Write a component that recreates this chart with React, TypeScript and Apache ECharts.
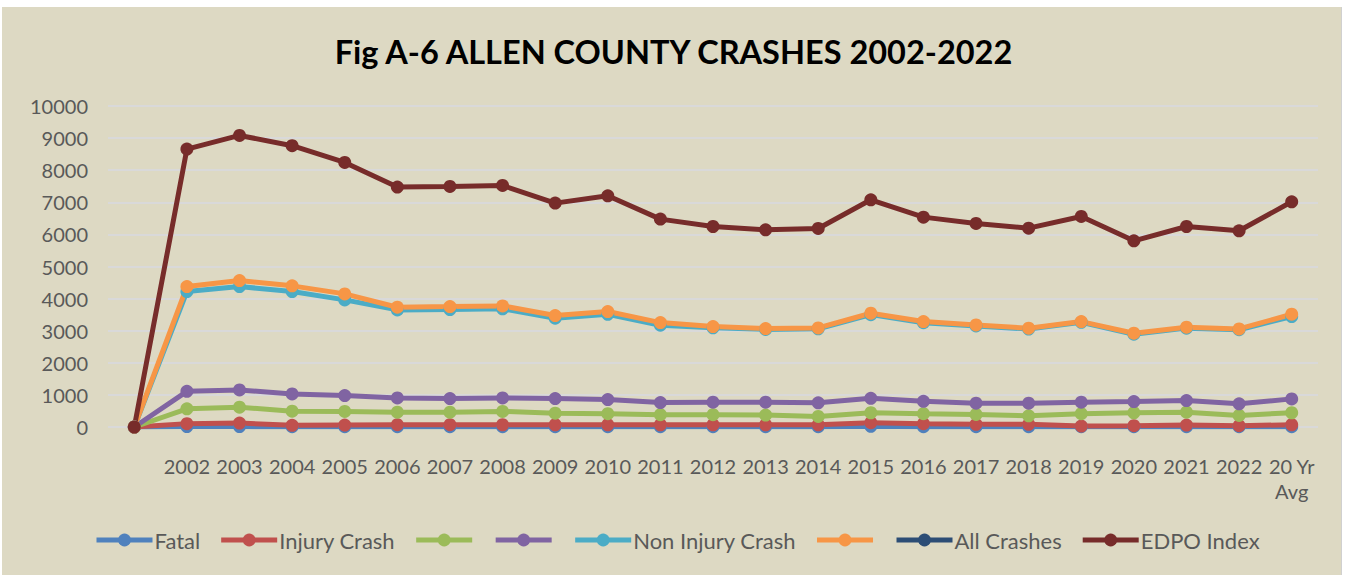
import React, { useEffect, useRef } from "react";
import * as echarts from "echarts";

const categories = ["", "2002", "2003", "2004", "2005", "2006", "2007", "2008", "2009", "2010", "2011", "2012", "2013", "2014", "2015", "2016", "2017", "2018", "2019", "2020", "2021", "2022", "20 Yr\nAvg"];

const fatal = [0, 12, 12, 8, 8, 8, 8, 8, 8, 8, 8, 8, 8, 8, 20, 10, 8, 8, 8, 8, 8, 8, 10];
const injuryCrash = [0, 105, 122, 52, 62, 72, 72, 70, 70, 70, 70, 70, 70, 70, 135, 105, 85, 85, 30, 40, 60, 40, 70];
const greenSeries = [0, 568, 617, 494, 485, 463, 463, 485, 432, 413, 383, 383, 370, 330, 444, 413, 393, 350, 413, 444, 463, 360, 444];
const purpleSeries = [0, 1111, 1154, 1031, 978, 907, 886, 907, 886, 855, 762, 772, 772, 753, 895, 802, 741, 741, 772, 793, 824, 722, 876];
const nonInjuryCrash = [0, 4220, 4375, 4220, 3960, 3648, 3660, 3680, 3390, 3510, 3170, 3090, 3040, 3060, 3500, 3250, 3150, 3050, 3260, 2890, 3080, 3030, 3440];
const orangeSeries = [0, 4375, 4562, 4397, 4147, 3732, 3751, 3773, 3471, 3596, 3253, 3128, 3066, 3087, 3544, 3284, 3181, 3077, 3284, 2921, 3108, 3056, 3513];
const allCrashes: (number | null)[] = categories.map(() => null);
const edpoIndex = [0, 8659, 9083, 8762, 8241, 7474, 7493, 7524, 6975, 7203, 6476, 6246, 6143, 6184, 7078, 6538, 6340, 6195, 6558, 5800, 6246, 6112, 7016];

const seriesDefs = [
  { name: "Fatal", data: fatal, color: "#4F81BD" },
  { name: "Injury Crash", data: injuryCrash, color: "#C0504D" },
  { name: " ", data: greenSeries, color: "#9BBB59" },
  { name: "  ", data: purpleSeries, color: "#8064A2" },
  { name: "Non Injury Crash", data: nonInjuryCrash, color: "#4BACC6" },
  { name: "   ", data: orangeSeries, color: "#F79646" },
  { name: "All Crashes", data: allCrashes, color: "#2C4D75" },
  { name: "EDPO Index", data: edpoIndex, color: "#772C2A" },
];

const FONT = "Lato, 'Noto Sans', sans-serif";

export default function App() {
  const ref = useRef<HTMLDivElement>(null);
  useEffect(() => {
    if (!ref.current) return;
    const chart = echarts.init(ref.current, undefined, { renderer: "svg" });
    chart.setOption({
      animation: false,
      backgroundColor: "transparent",
      textStyle: { fontFamily: FONT },
      title: {
        text: "Fig A-6 ALLEN COUNTY CRASHES 2002-2022",
        left: "center",
        top: 30,
        textStyle: { fontFamily: FONT, fontWeight: "bold", fontSize: 32.5, color: "#000000" },
      },
      grid: { left: 108, top: 106, width: 1210, height: 321, containLabel: false },
      xAxis: {
        type: "category",
        data: categories,
        boundaryGap: true,
        axisLine: { show: false },
        axisTick: { show: false },
        axisLabel: { color: "#595959", fontSize: 20, fontFamily: FONT, margin: 26, lineHeight: 25, interval: 0 },
      },
      yAxis: {
        type: "value",
        min: 0,
        max: 10000,
        interval: 1000,
        axisLine: { show: false },
        axisTick: { show: false },
        axisLabel: { color: "#595959", fontSize: 20, fontFamily: FONT, margin: 20, formatter: (v: number) => String(v) },
        splitLine: { lineStyle: { color: "#D9D9D9", width: 2 } },
      },
      legend: {
        top: 529,
        left: 94,
        padding: 0,
        itemWidth: 56,
        itemHeight: 16,
        itemGap: 18.5,
        lineStyle: { width: 5 },
        textStyle: { color: "#595959", fontSize: 22, fontFamily: FONT, padding: [0, 0, 0, -3] },
        data: seriesDefs.map((s) => s.name),
        formatter: (n: string) => (n.trim() === "" ? "" : n),
      },
      series: seriesDefs.map((s) => ({
        name: s.name,
        type: "line",
        data: s.data,
        color: s.color,
        symbol: "circle",
        symbolSize: 13,
        showSymbol: true,
        lineStyle: { width: 5, color: s.color },
        itemStyle: { color: s.color },
        emphasis: { disabled: true },
      })),
    });
    return () => chart.dispose();
  }, []);
  return (
    <div style={{ position: "absolute", left: 0, top: 0, width: 1347, height: 575, background: "#ffffff", overflow: "hidden" }}>
      <div style={{ position: "absolute", left: 2, top: 7, width: 1339, height: 568, background: "#DDD9C3", borderRight: "1px solid #D0D0D0" }} />
      <div ref={ref} style={{ position: "absolute", left: 0, top: 0, width: 1347, height: 575 }} />
    </div>
  );
}
